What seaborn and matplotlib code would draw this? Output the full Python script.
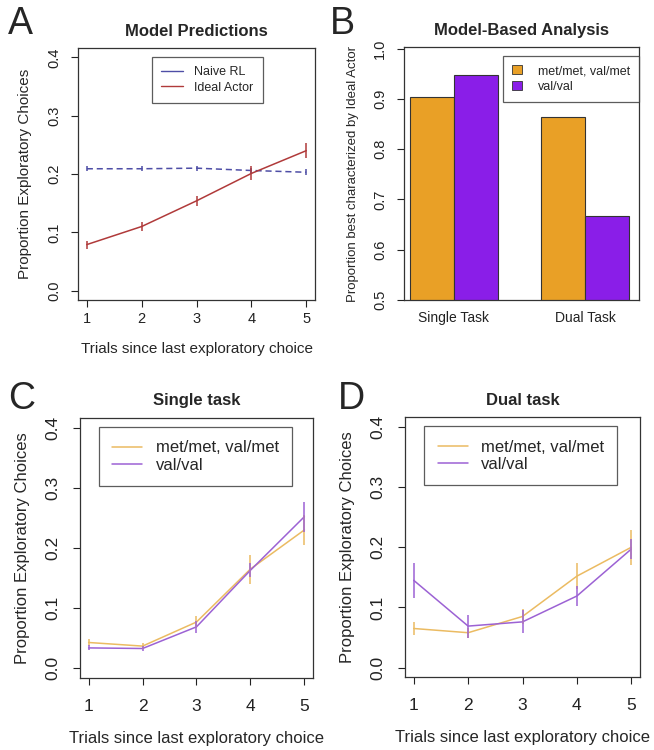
import numpy as np
import pandas as pd
import matplotlib
matplotlib.use('Agg')
import matplotlib.pyplot as plt
import seaborn as sns
from matplotlib.lines import Line2D
from matplotlib.patches import Patch

sns.set_style('white')
plt.rcParams['font.family'] = ['Liberation Sans', 'DejaVu Sans']

trials = [1, 2, 3, 4, 5]

# A: model predictions
naive_rl = [0.209, 0.209, 0.210, 0.206, 0.203]
naive_rl_se = [0.004, 0.004, 0.004, 0.005, 0.005]
ideal_actor = [0.079, 0.110, 0.154, 0.201, 0.240]
ideal_actor_se = [0.007, 0.008, 0.009, 0.012, 0.013]

# B: model-based analysis
tasks = ['Single Task', 'Dual Task']
genotypes = ['met/met, val/met', 'val/val']
prop_metval = [0.903, 0.863]
prop_valval = [0.947, 0.667]

# C: single task
single_metval = [0.043, 0.037, 0.077, 0.165, 0.230]
single_metval_se = [0.006, 0.005, 0.010, 0.024, 0.025]
single_valval = [0.034, 0.033, 0.069, 0.163, 0.252]
single_valval_se = [0.004, 0.004, 0.010, 0.012, 0.025]

# D: dual task
dual_metval = [0.065, 0.058, 0.085, 0.152, 0.200]
dual_metval_se = [0.010, 0.008, 0.013, 0.021, 0.029]
dual_valval = [0.145, 0.069, 0.076, 0.119, 0.197]
dual_valval_se = [0.029, 0.019, 0.019, 0.017, 0.016]

blue = '#4E4EA6'
red = '#B03A3A'
bar_orange = '#E9A026'
bar_purple = '#8A1EE8'
line_orange = '#EBBB62'
line_purple = '#9C62D4'

fig = plt.figure(figsize=(6.54, 7.5), dpi=100)
axA = fig.add_axes([0.1193, 0.600, 0.3624, 0.336])
axB = fig.add_axes([0.6177, 0.600, 0.3593, 0.3373])
axC = fig.add_axes([0.1223, 0.096, 0.3563, 0.3467])
axD = fig.add_axes([0.6193, 0.097, 0.3593, 0.3467])


def r_style(ax, ticksize, xpad=3.5, ypad=7):
    for s in ax.spines.values():
        s.set_visible(True)
        s.set_color('#333333')
        s.set_linewidth(0.9)
    ax.tick_params(axis='both', direction='out', length=5, width=0.8,
                   colors='#222222', labelsize=ticksize, left=True, bottom=True)
    ax.tick_params(axis='x', pad=xpad)
    ax.tick_params(axis='y', labelrotation=90, pad=ypad)
    for lab in ax.get_yticklabels():
        lab.set_va('center')


def line_panel(ax, a, a_se, b, b_se, names, colors, dashed_first=False, lw=1.1):
    df = pd.DataFrame({'trial': trials * 2, 'prop': a + b,
                       'group': [names[0]] * 5 + [names[1]] * 5})
    dashes = {names[0]: (4, 2.5) if dashed_first else '', names[1]: ''}
    sns.lineplot(data=df, x='trial', y='prop', hue='group', style='group',
                 dashes=dashes, palette=dict(zip(names, colors)),
                 linewidth=lw, legend=False, ax=ax)
    for vals, se, c in [(a, a_se, colors[0]), (b, b_se, colors[1])]:
        vals = np.array(vals)
        se = np.array(se)
        ax.vlines(trials, vals - se, vals + se, color=c, linewidth=lw)
    ax.set_xlim(0.84, 5.16)
    ax.set_ylim(-0.016, 0.416)
    ax.set_xticks(trials)
    ax.set_yticks([0.0, 0.1, 0.2, 0.3, 0.4])
    ax.set_yticklabels(['0.0', '0.1', '0.2', '0.3', '0.4'])


# A
line_panel(axA, naive_rl, naive_rl_se, ideal_actor, ideal_actor_se,
           ['Naive RL', 'Ideal Actor'], [blue, red], dashed_first=True)
r_style(axA, 10.5)
axA.set_title('Model Predictions', fontsize=12, fontweight='bold', pad=9)
axA.set_xlabel('Trials since last exploratory choice', fontsize=11, labelpad=12)
axA.set_ylabel('Proportion Exploratory Choices', fontsize=11, labelpad=11)
handles = [Line2D([], [], color=blue, lw=1), Line2D([], [], color=red, lw=1)]
legA = axA.legend(handles, ['Naive RL', 'Ideal Actor'], loc='upper left',
                  bbox_to_anchor=(0.312, 0.964), borderaxespad=0, fontsize=9,
                  frameon=True, fancybox=False, edgecolor='#333333',
                  handlelength=1.75, borderpad=0.75, labelspacing=0.25,
                  handletextpad=0.9)
legA.get_frame().set_linewidth(0.9)

# B
dfB = pd.DataFrame({'task': tasks * 2, 'prop': prop_metval + prop_valval,
                    'genotype': [genotypes[0]] * 2 + [genotypes[1]] * 2})
sns.barplot(data=dfB, x='task', y='prop', hue='genotype',
            palette=[bar_orange, bar_purple], saturation=1, width=0.667,
            edgecolor='#333333', linewidth=0.8, legend=False, ax=axB)
axB.set_ylim(0.5, 1.003)
axB.set_xlim(-0.379, 1.409)
axB.set_yticks([0.5, 0.6, 0.7, 0.8, 0.9, 1.0])
axB.set_yticklabels(['0.5', '0.6', '0.7', '0.8', '0.9', '1.0'])
r_style(axB, 10.5)
axB.tick_params(axis='x', length=0, pad=8, labelsize=10)
axB.set_title('Model-Based Analysis', fontsize=12, fontweight='bold', pad=9)
axB.set_xlabel('')
axB.set_ylabel('Proportion best characterized by Ideal Actor', fontsize=9.5, labelpad=10)
handles = [Patch(facecolor=bar_orange, edgecolor='#333333', linewidth=0.6),
           Patch(facecolor=bar_purple, edgecolor='#333333', linewidth=0.6)]
legB = axB.legend(handles, genotypes, loc='upper right',
                  bbox_to_anchor=(1.0, 0.964), borderaxespad=0, fontsize=9,
                  frameon=True, fancybox=False, edgecolor='#333333',
                  handlelength=0.8, handleheight=0.8, borderpad=0.7,
                  labelspacing=0.3, handletextpad=1.3)
legB.get_frame().set_linewidth(0.9)

# C and D
for ax, a, a_se, b, b_se, title in [
        (axC, single_metval, single_metval_se, single_valval, single_valval_se, 'Single task'),
        (axD, dual_metval, dual_metval_se, dual_valval, dual_valval_se, 'Dual task')]:
    line_panel(ax, a, a_se, b, b_se, genotypes, [line_orange, line_purple])
    r_style(ax, 12.5, xpad=10, ypad=9)
    ax.set_title(title, fontsize=12, fontweight='bold', pad=9)
    ax.set_xlabel('Trials since last exploratory choice', fontsize=12, labelpad=12)
    ax.set_ylabel('Proportion Exploratory Choices', fontsize=12, labelpad=11)
    handles = [Line2D([], [], color=line_orange, lw=1.1),
               Line2D([], [], color=line_purple, lw=1.1)]
    leg = ax.legend(handles, genotypes, loc='upper left',
                    bbox_to_anchor=(0.082, 0.965), borderaxespad=0, fontsize=12,
                    frameon=True, fancybox=False, edgecolor='#333333',
                    handlelength=1.8, borderpad=0.8, labelspacing=0.15,
                    handletextpad=0.8)
    leg.get_frame().set_linewidth(0.9)

for letter, x, y in [('A', 0.012, 0.992), ('B', 0.505, 0.992),
                     ('C', 0.012, 0.492), ('D', 0.516, 0.492)]:
    fig.text(x, y, letter, fontsize=27, ha='left', va='top')

fig.savefig('out.png', dpi=100)
